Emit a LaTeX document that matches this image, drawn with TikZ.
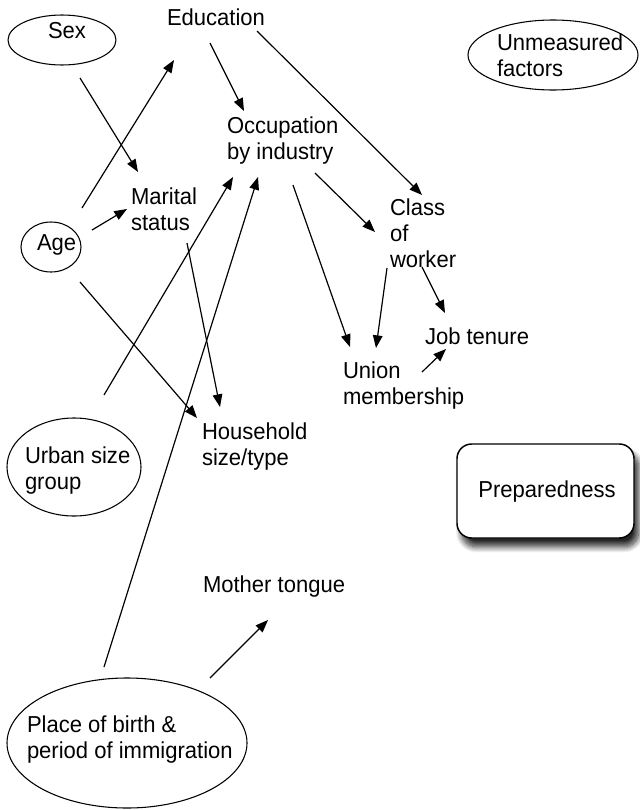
\documentclass[tikz,border=0pt]{standalone}
\usepackage{fontspec}
\setmainfont[FakeStretch=0.955]{Liberation Sans}
\usetikzlibrary{arrows.meta,shapes.geometric,shadows.blur}

% multi-line label whose reference point is the first baseline
\newcommand{\stack}[1]{\begin{tabular}[t]{@{}l@{}}#1\end{tabular}}

\begin{document}
\begin{tikzpicture}[x=0.75pt,y=-0.75pt,
  every node/.style={inner sep=0pt,outer sep=0pt},
  lbl/.style={anchor=base west,font=\fontsize{17.3}{19.6}\selectfont},
  oval/.style={draw,ellipse,line width=0.8pt},
  link/.style={line width=0.9pt,-{Triangle[length=9.5pt,width=7.2pt]}},
  panel/.style={draw,line width=1.1pt,rounded corners=11pt,fill=white,
    blur shadow={shadow xshift=3.5pt,shadow yshift=-6.5pt,shadow blur radius=4.5pt,shadow blur steps=12,shadow opacity=85}}
]
\useasboundingbox (0,0) rectangle (639,810);

% ovals (sizes in pt: pixel size times 0.75)
\node[oval,minimum width=81pt,minimum height=37.5pt] (sexo) at (62,40) {};
\node[oval,minimum width=45pt,minimum height=37.5pt] (ageo) at (51,247) {};
\node[oval,minimum width=127.5pt,minimum height=52.5pt] (unmeaso) at (553,55) {};
\node[oval,minimum width=100.5pt,minimum height=73.5pt] (urbano) at (74,467) {};
\node[oval,minimum width=180pt,minimum height=97.5pt] (birtho) at (127,743) {};

% box
\node[panel,minimum width=132.75pt,minimum height=70.5pt] (prep) at (545.5,491) {};

% labels
\node[lbl] (sex) at (48,38) {Sex};
\node[lbl] (age) at (37,250) {Age};
\node[lbl] (edu) at (167,26) {Education};
\node[lbl] (marital) at (131,204) {\stack{Marital\\status}};
\node[lbl] (occ) at (227,133) {\stack{Occupation\\by industry}};
\node[lbl] (cls) at (390,215) {\stack{Class\\of\\worker}};
\node[lbl] (job) at (425,344) {Job tenure};
\node[lbl] (union) at (343,378) {\stack{Union\\membership}};
\node[lbl] (unmeas) at (497,50) {\stack{Unmeasured\\factors}};
\node[lbl] (urban) at (25,463) {\stack{Urban size\\group}};
\node[lbl] (house) at (202,439) {\stack{Household\\size/type}};
\node[lbl] (mother) at (203,592) {Mother tongue};
\node[lbl] (birth) at (27,732) {\stack{Place of birth \&\\period of immigration}};
\node[lbl,anchor=base] (preptext) at (547,497) {Preparedness};

% connector end points
\coordinate (sex-mar-a) at (80,78);   \coordinate (sex-mar-b) at (138,172);
\coordinate (age-edu-a) at (82,208);  \coordinate (age-edu-b) at (174,60);
\coordinate (age-mar-a) at (92,230);  \coordinate (age-mar-b) at (127,209);
\coordinate (edu-occ-a) at (210,43);  \coordinate (edu-occ-b) at (244,111);
\coordinate (edu-cls-a) at (257,31);  \coordinate (edu-cls-b) at (422,195);
\coordinate (age-hh-a) at (80,282);   \coordinate (age-hh-b) at (197,418);
\coordinate (urb-occ-a) at (104,395); \coordinate (urb-occ-b) at (233,177);
\coordinate (bir-occ-a) at (104,667); \coordinate (bir-occ-b) at (258,177);
\coordinate (mar-hh-a) at (187,243);  \coordinate (mar-hh-b) at (220,407);
\coordinate (occ-cls-a) at (315,173); \coordinate (occ-cls-b) at (375,232);
\coordinate (occ-uni-a) at (293,185); \coordinate (occ-uni-b) at (350,347);
\coordinate (cls-uni-a) at (387,268); \coordinate (cls-uni-b) at (376,348);
\coordinate (cls-job-a) at (422,267); \coordinate (cls-job-b) at (445,313);
\coordinate (uni-job-a) at (422,372); \coordinate (uni-job-b) at (446,349);
\coordinate (bir-mot-a) at (210,678); \coordinate (bir-mot-b) at (268,620);

% connectors
\draw[link] (sex-mar-a) -- (sex-mar-b);
\draw[link] (age-edu-a) -- (age-edu-b);
\draw[link] (age-mar-a) -- (age-mar-b);
\draw[link] (edu-occ-a) -- (edu-occ-b);
\draw[link] (edu-cls-a) -- (edu-cls-b);
\draw[link] (age-hh-a) -- (age-hh-b);
\draw[link] (urb-occ-a) -- (urb-occ-b);
\draw[link] (bir-occ-a) -- (bir-occ-b);
\draw[link] (mar-hh-a) -- (mar-hh-b);
\draw[link] (occ-cls-a) -- (occ-cls-b);
\draw[link] (occ-uni-a) -- (occ-uni-b);
\draw[link] (cls-uni-a) -- (cls-uni-b);
\draw[link] (cls-job-a) -- (cls-job-b);
\draw[link] (uni-job-a) -- (uni-job-b);
\draw[link] (bir-mot-a) -- (bir-mot-b);
\end{tikzpicture}
\end{document}
